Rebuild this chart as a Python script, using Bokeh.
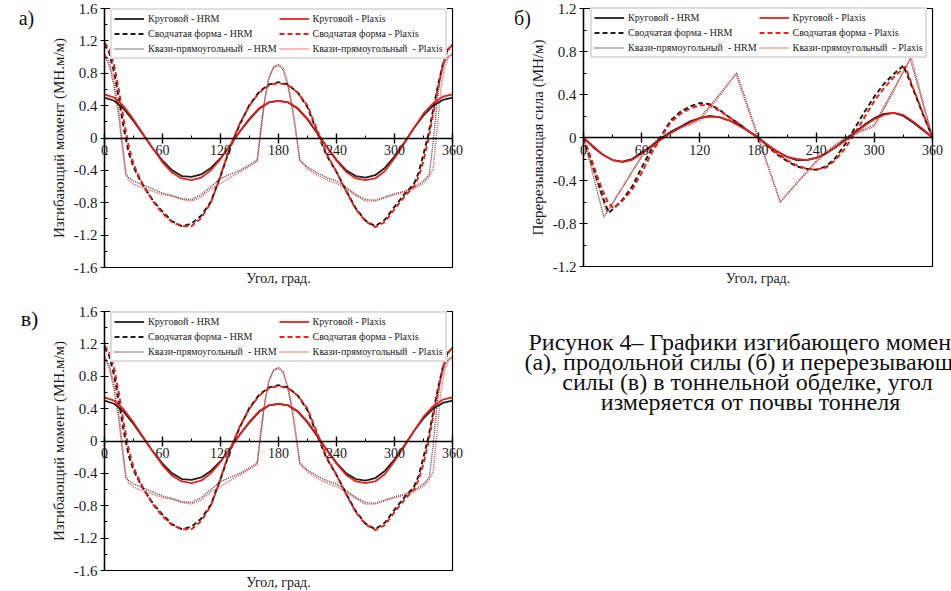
from bokeh.plotting import figure
from bokeh.layouts import column, row
from bokeh.models import (FixedTicker, Legend, LegendItem, Range1d, Label, LinearAxis,
                          BoxAnnotation)
from bokeh.embed import file_html
from bokeh.resources import INLINE
from bokeh.core.properties import value

FONT = "Liberation Serif"

# ---------------- data ----------------
X_TICKS = [0, 60, 120, 180, 240, 300, 360]
X_MINOR = [30, 90, 150, 210, 270, 330]

M_TICKS = [-1.6, -1.2, -0.8, -0.4, 0, 0.4, 0.8, 1.2, 1.6]
M_TICK_LABELS = ["-1.6", "-1.2", "-0.8", "-0.4", "0", "0.4", "0.8", "1.2", "1.6"]
M_MINOR = [-1.4, -1.0, -0.6, -0.2, 0.2, 0.6, 1.0, 1.4]

Q_TICKS = [-1.2, -0.8, -0.4, 0, 0.4, 0.8, 1.2]
Q_TICK_LABELS = ["-1.2", "-0.8", "-0.4", "0", "0.4", "0.8", "1.2"]
Q_MINOR = [-1.0, -0.6, -0.2, 0.2, 0.6, 1.0]

LEGEND_LABELS = ["Круговой - HRM", "Сводчатая форма - HRM", "Квази-прямоугольный  - HRM",
                 "Круговой - Plaxis", "Сводчатая форма - Plaxis", "Квази-прямоугольный  - Plaxis"]

ANG10 = [0, 10, 20, 30, 40, 50, 60, 70, 80, 90, 100, 110, 120, 130, 140, 150, 160, 170, 180,
         190, 200, 210, 220, 230, 240, 250, 260, 270, 280, 290, 300, 310, 320, 330, 340, 350, 360]

# Bending moment (panels a and v)
M_CIRC_HRM = [0.50, 0.46, 0.36, 0.21, 0.04, -0.13, -0.28, -0.40, -0.47, -0.48, -0.45, -0.37, -0.25,
              -0.09, 0.08, 0.23, 0.36, 0.44, 0.46, 0.44, 0.36, 0.23, 0.06, -0.11, -0.27, -0.40,
              -0.47, -0.49, -0.46, -0.37, -0.23, -0.06, 0.12, 0.28, 0.40, 0.47, 0.50]
M_CIRC_PLX = [0.54, 0.50, 0.39, 0.23, 0.05, -0.13, -0.30, -0.43, -0.50, -0.52, -0.49, -0.40, -0.26,
              -0.09, 0.08, 0.24, 0.37, 0.44, 0.46, 0.44, 0.37, 0.24, 0.07, -0.11, -0.28, -0.42,
              -0.50, -0.52, -0.50, -0.41, -0.25, -0.07, 0.12, 0.30, 0.43, 0.51, 0.54]

M_PNT_ANG = [0, 5, 10, 15, 20, 25, 30, 35, 40, 50, 60, 70, 80, 90, 100, 110, 120, 130, 140, 150,
             160, 170, 180, 190, 200, 210, 220, 230, 240, 250, 260, 270, 280, 290, 300, 310, 320,
             325, 330, 335, 340, 345, 350, 355, 360]
M_PNT_HRM = [1.16, 1.05, 0.81, 0.48, 0.12, -0.18, -0.36, -0.48, -0.59, -0.77, -0.91, -1.03, -1.09,
             -1.06, -0.96, -0.79, -0.47, -0.12, 0.17, 0.41, 0.57, 0.66, 0.69, 0.66, 0.56, 0.38,
             0.07, -0.22, -0.42, -0.65, -0.87, -1.02, -1.09, -1.01, -0.85, -0.70, -0.57, -0.43,
             -0.20, 0.04, 0.35, 0.65, 0.91, 1.09, 1.15]
M_PNT_PLX = [1.18, 1.10, 0.90, 0.58, 0.22, -0.10, -0.32, -0.46, -0.58, -0.78, -0.93, -1.04, -1.09,
             -1.09, -0.99, -0.80, -0.47, -0.10, 0.18, 0.40, 0.56, 0.65, 0.68, 0.65, 0.56, 0.40,
             0.10, -0.20, -0.42, -0.66, -0.88, -1.03, -1.10, -1.04, -0.88, -0.73, -0.60, -0.48,
             -0.28, -0.02, 0.30, 0.62, 0.90, 1.08, 1.16]

M_QR_ANG = [0, 5, 10, 15, 18, 22, 25, 30, 40, 50, 60, 70, 80, 90, 100, 110, 120, 130, 140, 150,
            158, 162, 166, 170, 175, 180, 185, 190, 194, 198, 202, 210, 220, 230, 240, 250, 260,
            270, 280, 290, 300, 310, 320, 330, 336, 340, 344, 348, 352, 356, 360]
M_QR_HRM = [1.03, 0.90, 0.63, 0.25, -0.08, -0.45, -0.49, -0.53, -0.58, -0.63, -0.68, -0.71, -0.75,
            -0.76, -0.70, -0.60, -0.50, -0.45, -0.40, -0.33, -0.27, 0.15, 0.50, 0.74, 0.87, 0.90,
            0.84, 0.63, 0.38, 0.06, -0.27, -0.36, -0.43, -0.49, -0.53, -0.61, -0.70, -0.76, -0.77,
            -0.73, -0.69, -0.66, -0.61, -0.53, -0.45, -0.05, 0.45, 0.78, 0.95, 1.01, 1.03]
M_QR_PLX = [1.05, 0.94, 0.70, 0.33, 0.02, -0.42, -0.52, -0.57, -0.62, -0.66, -0.70, -0.72, -0.76,
            -0.78, -0.73, -0.63, -0.56, -0.49, -0.42, -0.35, -0.29, 0.10, 0.48, 0.74, 0.88, 0.91,
            0.86, 0.66, 0.42, 0.10, -0.28, -0.38, -0.46, -0.52, -0.56, -0.63, -0.71, -0.78, -0.78,
            -0.74, -0.70, -0.67, -0.63, -0.56, -0.48, -0.38, 0.10, 0.60, 0.88, 1.00, 1.05]

# Shear force (panel b)
Q_CIRC_HRM = [0.00, -0.09, -0.16, -0.21, -0.225, -0.20, -0.14, -0.08, -0.01, 0.05, 0.10, 0.15, 0.18,
              0.20, 0.19, 0.16, 0.12, 0.06, 0.00, -0.07, -0.13, -0.18, -0.21, -0.21, -0.19, -0.15,
              -0.09, -0.02, 0.05, 0.12, 0.18, 0.22, 0.23, 0.20, 0.14, 0.07, 0.00]
Q_CIRC_PLX = [0.00, -0.08, -0.16, -0.21, -0.23, -0.21, -0.15, -0.09, -0.02, 0.04, 0.09, 0.14, 0.18,
              0.195, 0.19, 0.16, 0.11, 0.06, 0.00, -0.07, -0.13, -0.18, -0.20, -0.21, -0.19, -0.15,
              -0.09, -0.03, 0.04, 0.11, 0.17, 0.21, 0.23, 0.21, 0.15, 0.08, 0.00]

Q_PNT_HRM_ANG = [0, 5, 10, 15, 20, 26, 30, 40, 50, 60, 70, 80, 90, 100, 110, 120, 130, 140, 150,
                 160, 170, 180, 190, 200, 210, 220, 230, 240, 250, 260, 270, 280, 290, 300, 310,
                 320, 330, 340, 350, 360]
Q_PNT_HRM = [0.00, -0.14, -0.28, -0.42, -0.56, -0.70, -0.67, -0.58, -0.46, -0.28, -0.11, 0.01, 0.16,
             0.24, 0.29, 0.32, 0.31, 0.26, 0.19, 0.13, 0.06, 0.00, -0.08, -0.16, -0.22, -0.27,
             -0.29, -0.30, -0.27, -0.19, -0.06, 0.09, 0.24, 0.38, 0.50, 0.59, 0.67, 0.45, 0.22,
             0.00]
Q_PNT_PLX_ANG = [0, 5, 10, 15, 20, 25, 31, 40, 50, 60, 70, 80, 90, 100, 110, 120, 130, 140, 150,
                 160, 170, 180, 190, 200, 210, 220, 230, 240, 250, 260, 270, 280, 290, 300, 310,
                 320, 332, 340, 350, 360]
Q_PNT_PLX = [0.00, -0.12, -0.25, -0.38, -0.50, -0.60, -0.66, -0.59, -0.49, -0.33, -0.15, 0.00, 0.14,
             0.22, 0.27, 0.30, 0.30, 0.25, 0.19, 0.13, 0.06, 0.00, -0.08, -0.15, -0.21, -0.26,
             -0.29, -0.30, -0.28, -0.21, -0.10, 0.04, 0.19, 0.34, 0.46, 0.56, 0.66, 0.46, 0.23,
             0.00]

Q_QR_HRM_ANG = [0, 21, 40, 62, 76, 90, 100, 110, 120, 140, 158, 203, 220, 240, 255, 270, 288, 300,
                320, 337, 360]
Q_QR_HRM = [0.00, -0.74, -0.47, -0.15, -0.02, 0.06, 0.10, 0.13, 0.18, 0.40, 0.60, -0.60, -0.42,
            -0.22, -0.10, 0.00, 0.07, 0.12, 0.45, 0.73, 0.00]
Q_QR_PLX_ANG = [0, 24, 40, 62, 76, 90, 100, 110, 120, 140, 157, 203, 220, 240, 255, 270, 288, 300,
                320, 338, 360]
Q_QR_PLX = [0.00, -0.70, -0.46, -0.14, -0.03, 0.05, 0.09, 0.12, 0.16, 0.38, 0.59, -0.60, -0.43,
            -0.23, -0.11, -0.01, 0.06, 0.10, 0.43, 0.75, 0.00]

CAPTION_LINES = ["Рисунок 4– Графики изгибающего момента",
                 "(а), продольной силы (б) и перерезывающей",
                 "силы  (в) в тоннельной обделке, угол",
                 "измеряется от почвы тоннеля"]

# ---------------- styles ----------------
BLACK = "#1e1e1e"
RED = "#e3241f"
STYLES = [
    dict(line_color=BLACK, line_width=1.8),                          # circ HRM
    dict(line_color=BLACK, line_width=2.0, line_dash="5 3"),          # pointed HRM
    dict(line_color="#4a4a4a", line_width=1.4, line_dash="1 1"),      # quasi HRM
    dict(line_color=RED, line_width=1.8),                            # circ Plaxis
    dict(line_color=RED, line_width=2.0, line_dash="5 3"),            # pointed Plaxis
    dict(line_color="#e84a4a", line_width=1.4, line_dash="1 1"),      # quasi Plaxis
]
DRAW_ORDER = [2, 5, 1, 4, 0, 3]
TXT = "#1a1a1a"


def panel(W, H, box, ylim, yticks, ylabels, yminor, ytitle, series,
          letter, letter_px, letter_size, xlabel_py, legend_px):
    L, T, R, B = box               # pixel position of the plot box inside the canvas
    y0, y1 = ylim
    kx = (R - L) / 360.0
    ky = (B - T) / (y1 - y0)

    def dx(px):
        return (px - L) / kx

    def dy(py):
        return y0 + (B - py) / ky

    p = figure(width=W, height=H, output_backend="svg", toolbar_location=None, title=None,
               x_range=Range1d(dx(0), dx(W)), y_range=Range1d(dy(H), dy(0)),
               min_border=0, x_axis_location=None, y_axis_location=None)
    p.xgrid.visible = False
    p.ygrid.visible = False
    p.outline_line_color = None

    p.add_layout(BoxAnnotation(left=0, right=360, bottom=y0, top=y1, fill_color=None,
                               line_color="black", line_width=1.2, line_alpha=1.0))

    xa = LinearAxis(fixed_location=0, bounds=(0, 360))
    xa.ticker = FixedTicker(ticks=X_TICKS, minor_ticks=X_MINOR)
    xa.major_tick_in = 5
    xa.major_tick_out = 5
    xa.minor_tick_in = 3
    xa.minor_tick_out = 0
    xa.axis_line_width = 1.4
    xa.major_tick_line_width = 1.4
    xa.major_label_text_font = FONT
    xa.major_label_text_font_size = "14px"
    xa.major_label_text_color = TXT
    xa.major_label_standoff = 2
    p.add_layout(xa, "below")

    ya = LinearAxis(fixed_location=0, bounds=(y0, y1))
    ya.ticker = FixedTicker(ticks=yticks, minor_ticks=yminor)
    ya.major_label_overrides = {t: l for t, l in zip(yticks, ylabels)}
    ya.major_tick_in = 4
    ya.major_tick_out = 4
    ya.minor_tick_in = 3
    ya.minor_tick_out = 0
    ya.axis_line_width = 1.4
    ya.major_label_text_font = FONT
    ya.major_label_text_font_size = "15px"
    ya.major_label_text_color = TXT
    ya.major_label_standoff = 3
    ya.axis_label = ytitle
    ya.axis_label_text_font = FONT
    ya.axis_label_text_font_size = "15px"
    ya.axis_label_text_font_style = "normal"
    ya.axis_label_text_color = TXT
    ya.axis_label_standoff = 4
    p.add_layout(ya, "left")

    rends = {}
    for i in DRAW_ORDER:
        xs, ys = series[i]
        rends[i] = p.line(xs, ys, **STYLES[i])

    items = [LegendItem(label=LEGEND_LABELS[i], renderers=[rends[i]]) for i in range(6)]
    pad, gh, sp = 2, 13, 2
    leg_h = 2 * pad + 3 * gh + 2 * sp
    leg = Legend(items=items, location=(legend_px[0], H - legend_px[1] - leg_h), ncols=2)
    leg.label_text_font = FONT
    leg.label_text_font_size = "10px"
    leg.label_text_color = TXT
    leg.glyph_width = 30
    leg.glyph_height = gh
    leg.label_height = gh
    leg.label_standoff = 4
    leg.spacing = sp
    leg.padding = pad
    leg.margin = 0
    leg.border_line_color = "#bdbdbd"
    leg.border_line_width = 2
    leg.background_fill_color = "white"
    leg.background_fill_alpha = 1.0
    p.add_layout(leg)

    p.add_layout(Label(x=180, y=dy(xlabel_py), text="Угол, град.", text_font=FONT,
                       text_font_size="14px", text_color=TXT,
                       text_align="center", text_baseline="middle"))

    p.add_layout(Label(x=dx(letter_px[0]), y=dy(letter_px[1]), text=letter, text_font=FONT,
                       text_font_size=letter_size, text_color="#111111",
                       text_align="center", text_baseline="middle"))
    return p


M_SERIES = [(ANG10, M_CIRC_HRM), (M_PNT_ANG, M_PNT_HRM), (M_QR_ANG, M_QR_HRM),
            (ANG10, M_CIRC_PLX), (M_PNT_ANG, M_PNT_PLX), (M_QR_ANG, M_QR_PLX)]
Q_SERIES = [(ANG10, Q_CIRC_HRM), (Q_PNT_HRM_ANG, Q_PNT_HRM), (Q_QR_HRM_ANG, Q_QR_HRM),
            (ANG10, Q_CIRC_PLX), (Q_PNT_PLX_ANG, Q_PNT_PLX), (Q_QR_PLX_ANG, Q_QR_PLX)]

pa = panel(500, 295, (104, 8, 452, 267), (-1.6, 1.6), M_TICKS, M_TICK_LABELS, M_MINOR,
           "Изгибающий момент (МН.м/м)", M_SERIES, "а)", (26, 17), "20px", 278, (110, 12))
pb = panel(451, 295, (83, 8, 432, 266), (-1.2, 1.2), Q_TICKS, Q_TICK_LABELS, Q_MINOR,
           "Перерезывающая сила (МН/м)", Q_SERIES, "б)", (22, 17), "20px", 278, (90, 11))
pc = panel(500, 296, (104, 16, 452, 275), (-1.6, 1.6), M_TICKS, M_TICK_LABELS, M_MINOR,
           "Изгибающий момент (МН.м/м)", M_SERIES, "в)", (29, 23), "22px", 287, (110, 20))

cap = figure(width=451, height=296, output_backend="svg", toolbar_location=None, title=None,
             x_range=Range1d(0, 451), y_range=Range1d(296, 0), min_border=0,
             x_axis_location=None, y_axis_location=None)
cap.grid.visible = False
cap.outline_line_color = None
n = len(CAPTION_LINES)
cap.text(x=[250] * n, y=[46 + 20.3 * i for i in range(n)], text=CAPTION_LINES,
         text_font=value(FONT), text_font_size="24px", text_align="center",
         text_baseline="middle", text_color="#111111")

layout = column(row(pa, pb), row(pc, cap))
open("out.html", "w").write(file_html(layout, INLINE))
